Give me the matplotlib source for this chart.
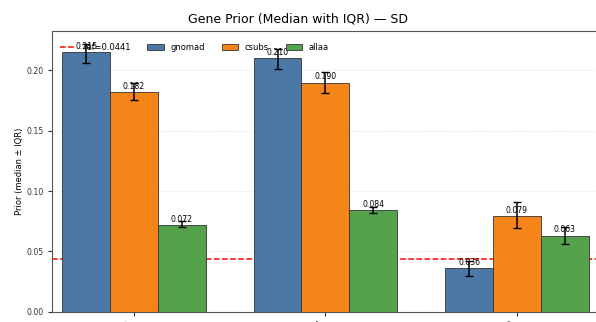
import matplotlib
matplotlib.use("Agg")
import matplotlib.pyplot as plt
import numpy as np

# Gene groups and per-source prior summaries (median with IQR bounds)
groups = ["SCN2A", "STXBP1", "KCNQ2"]
sources = ["gnomad", "csubs", "allaa"]
colors = ["#4C78A8", "#F58518", "#54A24B"]

gnomad_med = [0.215, 0.210, 0.036]
gnomad_q1 = [0.206, 0.2015, 0.0296]
gnomad_q3 = [0.222, 0.218, 0.0423]

csubs_med = [0.182, 0.190, 0.079]
csubs_q1 = [0.1757, 0.1812, 0.0697]
csubs_q3 = [0.1900, 0.1987, 0.0913]

allaa_med = [0.072, 0.084, 0.063]
allaa_q1 = [0.0705, 0.0819, 0.0562]
allaa_q3 = [0.0752, 0.0869, 0.0705]

ref_value = 0.0441

medians = [gnomad_med, csubs_med, allaa_med]
q1s = [gnomad_q1, csubs_q1, allaa_q1]
q3s = [gnomad_q3, csubs_q3, allaa_q3]

fig = plt.figure(figsize=(5.96, 3.22), dpi=100)
ax = fig.add_axes([52 / 596, 1 - 311.7 / 322, 548 / 596, (311.7 - 31) / 322])

x = np.arange(len(groups))
width = 0.25

ax.set_axisbelow(True)
ax.yaxis.grid(True, linestyle="--", color="#cccccc", alpha=0.4, linewidth=0.6)

bar_handles = []
for i, (name, col) in enumerate(zip(sources, colors)):
    med = np.array(medians[i])
    lo = med - np.array(q1s[i])
    hi = np.array(q3s[i]) - med
    pos = x + (i - 1) * width
    bars = ax.bar(pos, med, width, color=col, edgecolor="#333333",
                  linewidth=0.6, label=name, zorder=2)
    bar_handles.append(bars)
    ax.errorbar(pos, med, yerr=[lo, hi], fmt="none", ecolor="black",
                elinewidth=1.1, capsize=3, capthick=1.0, zorder=3)
    for b, v in zip(bars, med):
        ax.text(b.get_x() + b.get_width() / 2, v + 0.001, f"{v:.3f}",
                ha="center", va="bottom", fontsize=5.6, zorder=4)

ref_line = ax.axhline(ref_value, color="red", linestyle="--", linewidth=1.1,
                      label=f"ref={ref_value}", zorder=1.5)

ax.set_xlim(-0.428, 2.434)
ax.set_ylim(0, 0.2327)
ax.set_xticks(x)
ax.set_xticklabels(groups, rotation=45, ha="right", fontsize=6)
ax.set_yticks([0.0, 0.05, 0.10, 0.15, 0.20])
ax.set_yticklabels(["0.00", "0.05", "0.10", "0.15", "0.20"])
ax.tick_params(axis="y", labelsize=5.6, length=3, width=0.8, pad=3.0, colors="#333333")
ax.tick_params(axis="x", length=3, width=0.8, colors="#333333", pad=2)
for s in ax.spines.values():
    s.set_color("#555555")
    s.set_linewidth(0.8)

ax.set_ylabel("Prior (median ± IQR)", fontsize=6, labelpad=1.5)
fig.text(0.5, 1 - 19 / 322, "Gene Prior (Median with IQR) — SD",
         ha="center", va="center", fontsize=9)

ax.legend([ref_line] + bar_handles, [f"ref={ref_value}"] + sources,
          loc="upper left", bbox_to_anchor=(0.0, 0.985), ncol=4,
          frameon=False, fontsize=6, handlelength=2.0,
          columnspacing=2.0, handletextpad=0.8)

fig.savefig("out.png", dpi=100)
